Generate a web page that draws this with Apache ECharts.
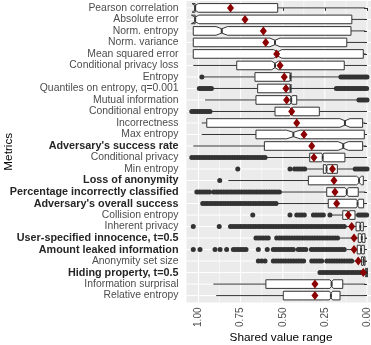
<!DOCTYPE html>
<html>
<head>
<meta charset="utf-8">
<script src="https://cdn.jsdelivr.net/npm/echarts@6/dist/echarts.min.js"></script>
<style>
  html, body { margin: 0; padding: 0; background: #fff; }
  #chart { width: 371px; height: 345px; }
</style>
</head>
<body>
<div id="chart"></div>
<script>
// metric names, top to bottom
const metrics = [
  "Pearson correlation", "Absolute error", "Norm. entropy", "Norm. variance",
  "Mean squared error", "Conditional privacy loss", "Entropy",
  "Quantiles on entropy, q=0.001", "Mutual information", "Conditional entropy",
  "Incorrectness", "Max entropy", "Adversary's success rate", "Conditional privacy",
  "Min entropy", "Loss of anonymity", "Percentage incorrectly classified",
  "Adversary's overall success", "Collision entropy", "Inherent privacy",
  "User-specified innocence, t=0.5", "Amount leaked information", "Anonymity set size",
  "Hiding property, t=0.5", "Information surprisal", "Relative entropy"
];
const boldRows = [12, 15, 16, 17, 20, 21, 23];

// box statistics per metric (same order as metrics)
const whiskerHigh = [1.02, 1.02, 1.031, 1.031, 1.031, 1.031, 0.97, 0.912, 0.961, 0.925, 0.981, 0.981, 1.031, 0.6, 0.36, 0.823, 0.51, 0.53, 0.215, 0.125, 0.165, 0.12, 0.08, 0.03, 0.912, 0.895];
const upperHinge  = [1.02, 1.02, 1.031, 1.031, 1.031, 0.773, 0.665, 0.649, 0.659, 0.546, 0.951, 0.659, 0.609, 0.34, 0.259, 0.348, 0.239, 0.23, 0.144, 0.065, 0.052, 0.058, 0.032, 0.008, 0.6, 0.497];
const medians     = [1.02, 1.02, 0.862, 0.546, 0.53, 0.546, 0.455, 0.455, 0.45, 0.45, 0.131, 0.437, 0.141, 0.263, 0.24, 0.047, 0.12, 0.056, 0.11, 0.04, 0.031, 0.035, 0.02, 0.0, 0.21, 0.214];
const notchHalf   = [0.018, 0.022, 0.034, 0.03, 0.025, 0.02, 0.004, 0.004, 0.006, 0.01, 0.03, 0.04, 0.03, 0.006, 0.004, 0.015, 0.01, 0.008, 0.006, 0.004, 0.004, 0.004, 0.003, 0.003, 0.01, 0.01];
const lowerHinge  = [0.53, 0.09, 0.095, 0.12, 0.022, 0.135, 0.451, 0.451, 0.417, 0.283, 0.026, 0.016, 0.026, 0.131, 0.176, 0.022, 0.052, 0.02, 0.071, 0.022, 0.012, 0.016, 0.012, 0.0, 0.144, 0.16];
const whiskerLow  = [0.01, 0.01, 0.01, 0.01, 0.008, 0.01, 0.165, 0.19, 0.055, 0.01, 0.01, 0.008, 0.005, 0.01, 0.078, 0.01, 0.01, 0.005, 0.06, 0.005, 0.0, 0.0, 0.0, 0.0, 0.01, 0.01];
const means       = [0.81, 0.724, 0.615, 0.601, 0.536, 0.516, 0.491, 0.481, 0.477, 0.447, 0.417, 0.374, 0.328, 0.315, 0.205, 0.196, 0.19, 0.18, 0.111, 0.091, 0.077, 0.077, 0.052, 0.022, 0.309, 0.309];

// outliers per metric
const outliers = [
  [], [], [], [], [], [],
  [0.98, 0.155, 0.143, 0.131, 0.119, 0.107, 0.095, 0.083, 0.071, 0.059, 0.047, 0.035, 0.023, 0.011, 0.0],
  [0.995, 0.983, 0.971, 0.959, 0.947, 0.935, 0.923, 0.182, 0.17, 0.158, 0.146, 0.134, 0.122, 0.11, 0.098, 0.086, 0.074, 0.062, 0.05, 0.038, 0.026, 0.014, 0.002],
  [0.048, 0.036, 0.024, 0.012, 0.0],
  [1.04, 1.028, 1.016, 1.004, 0.992, 0.98, 0.968, 0.956, 0.944, 0.932],
  [], [], [],
  [1.04, 1.025, 1.01, 0.995, 0.98, 0.965, 0.95, 0.935, 0.92, 0.905, 0.89, 0.875, 0.86, 0.845, 0.83, 0.815, 0.8, 0.785, 0.77, 0.755, 0.74, 0.725, 0.71, 0.695, 0.68, 0.665, 0.65, 0.635, 0.62, 0.605],
  [0.767, 0.457, 0.43, 0.415, 0.4, 0.385, 0.37, 0.07, 0.056, 0.042, 0.028, 0.014, 0.0],
  [0.874],
  [1.01, 0.995, 0.98, 0.965, 0.95, 0.935, 0.91, 0.895, 0.88, 0.865, 0.85, 0.835, 0.82, 0.805, 0.79, 0.775, 0.76, 0.745, 0.73, 0.715, 0.7, 0.685, 0.67, 0.655, 0.64, 0.625, 0.61, 0.595, 0.58, 0.565, 0.55, 0.535, 0.52],
  [0.975, 0.96, 0.945, 0.93, 0.915, 0.9, 0.885, 0.87, 0.855, 0.84, 0.825, 0.81, 0.795, 0.78, 0.765, 0.75, 0.735, 0.72, 0.705, 0.69, 0.675, 0.66, 0.645, 0.63, 0.615, 0.6, 0.585, 0.57, 0.555, 0.54],
  [0.678, 0.457, 0.417, 0.402, 0.387, 0.372, 0.318, 0.303, 0.288, 0.273, 0.259, 0.22, 0.05, 0.038, 0.026, 0.014, 0.002],
  [1.031, 0.877, 0.81, 0.795, 0.78, 0.765, 0.75, 0.735, 0.72, 0.705, 0.69, 0.675, 0.66, 0.645, 0.63, 0.615, 0.6, 0.585, 0.57, 0.555, 0.54, 0.525, 0.51, 0.495, 0.48, 0.465, 0.45, 0.435, 0.42, 0.405, 0.39, 0.375, 0.36, 0.345, 0.33, 0.315, 0.3, 0.285, 0.27, 0.255, 0.24, 0.225, 0.21, 0.195, 0.18, 0.165, 0.15, 0.135],
  [0.659, 0.645, 0.63, 0.615, 0.6, 0.586, 0.536, 0.52, 0.505, 0.49, 0.475, 0.46, 0.445, 0.43, 0.415, 0.4, 0.385, 0.37, 0.355, 0.34, 0.325, 0.31, 0.295, 0.28, 0.265, 0.25, 0.235, 0.22, 0.205, 0.19, 0.175],
  [1.031, 0.991, 0.902, 0.872, 0.833, 0.793, 0.778, 0.763, 0.748, 0.733, 0.718, 0.645, 0.592, 0.556, 0.541, 0.526, 0.511, 0.496, 0.481, 0.466, 0.451, 0.437, 0.408, 0.393, 0.378, 0.363, 0.33, 0.315, 0.3, 0.285, 0.27, 0.255, 0.24, 0.225, 0.21, 0.195, 0.18, 0.165, 0.15, 0.135],
  [0.645, 0.625, 0.605, 0.556, 0.541, 0.526, 0.511, 0.496, 0.481, 0.466, 0.451, 0.436, 0.421, 0.406, 0.391, 0.376, 0.328, 0.313, 0.298, 0.283, 0.269, 0.239, 0.224, 0.209, 0.194, 0.179, 0.164, 0.149, 0.134, 0.119, 0.104, 0.091],
  [0.279, 0.264, 0.249, 0.234, 0.219, 0.204, 0.189, 0.174, 0.159, 0.144, 0.129, 0.114, 0.099, 0.084, 0.069, 0.054, 0.039],
  [], []
];

// axis breaks
const majorBreaks = [0, 0.25, 0.5, 0.75, 1];
const minorBreaks = [0.125, 0.375, 0.625, 0.875];
const rowIndex = metrics.map((m, i) => i);

const boxData = metrics.map((m, i) => [i, whiskerLow[i], lowerHinge[i], medians[i], upperHinge[i], whiskerHigh[i], notchHalf[i]]);
const outlierData = [];
outliers.forEach((list, i) => list.forEach(v => outlierData.push([v, i])));
const meanData = means.map((v, i) => [v, i]);

const chart = echarts.init(document.getElementById('chart'));

// white panel grid lines drawn behind the boxes
function renderGrid(params, api) {
  const cs = params.coordSys;
  const children = [];
  minorBreaks.forEach(v => {
    const x = api.coord([v, 0])[0];
    children.push({ type: 'line', shape: { x1: x, y1: cs.y, x2: x, y2: cs.y + cs.height }, style: { stroke: '#ffffff', lineWidth: 0.5 } });
  });
  majorBreaks.forEach(v => {
    const x = api.coord([v, 0])[0];
    children.push({ type: 'line', shape: { x1: x, y1: cs.y, x2: x, y2: cs.y + cs.height }, style: { stroke: '#ffffff', lineWidth: 1 } });
  });
  rowIndex.forEach(r => {
    const y = api.coord([0, r])[1];
    children.push({ type: 'line', shape: { x1: cs.x, y1: y, x2: cs.x + cs.width, y2: y }, style: { stroke: '#ffffff', lineWidth: 1 } });
  });
  return { type: 'group', children: children };
}

// notched box, ggplot style
function renderBox(params, api) {
  const row = api.value(0);
  const wl = api.value(1), q1 = api.value(2), med = api.value(3);
  const q3 = api.value(4), wh = api.value(5), nh = api.value(6);
  const px = v => api.coord([v, row])[0];
  const yc = api.coord([0, row])[1];
  const half = api.size([0, 1])[1] * 0.375;
  const top = yc - half, bot = yc + half, ind = half / 2;
  const line = { stroke: '#333333', lineWidth: 1 };
  return {
    type: 'group',
    children: [
      { type: 'line', shape: { x1: px(wh), y1: yc, x2: px(q3), y2: yc }, style: line },
      { type: 'line', shape: { x1: px(q1), y1: yc, x2: px(wl), y2: yc }, style: line },
      {
        type: 'polygon',
        shape: {
          points: [
            [px(q1), top], [px(med - nh), top], [px(med), top + ind], [px(med + nh), top], [px(q3), top],
            [px(q3), bot], [px(med + nh), bot], [px(med), bot - ind], [px(med - nh), bot], [px(q1), bot]
          ]
        },
        style: { fill: '#ffffff', stroke: '#333333', lineWidth: 1 }
      },
      { type: 'line', shape: { x1: px(med), y1: top + ind, x2: px(med), y2: bot - ind }, style: { stroke: '#333333', lineWidth: 2 } }
    ]
  };
}

const option = {
  animation: false,
  grid: {
    left: 186.5,
    top: 1,
    width: 189,
    height: 301.5,
    show: true,
    backgroundColor: '#EBEBEB',
    borderWidth: 0,
    containLabel: false,
    outerBoundsMode: 'none'
  },
  xAxis: {
    type: 'value',
    inverse: true,
    min: -0.0504,
    max: 1.0712,
    name: 'Shared value range',
    nameLocation: 'middle',
    nameMoveOverlap: false,
    nameGap: 29,
    nameTextStyle: { fontFamily: 'Liberation Sans', fontSize: 11.8, color: '#000000' },
    axisLine: { show: false },
    axisTick: { show: true, customValues: majorBreaks, length: 3, lineStyle: { color: '#333333', width: 1 } },
    axisLabel: {
      customValues: majorBreaks,
      formatter: v => v.toFixed(2),
      rotate: 90,
      margin: 5,
      fontFamily: 'Liberation Sans',
      fontSize: 10,
      color: '#4D4D4D'
    },
    splitLine: { show: false }
  },
  yAxis: {
    type: 'value',
    inverse: true,
    min: -0.6,
    max: 25.6,
    name: 'Metrics',
    nameLocation: 'middle',
    nameMoveOverlap: false,
    nameRotate: 90,
    nameGap: 172,
    nameTextStyle: { fontFamily: 'Liberation Sans', fontSize: 11.8, color: '#000000' },
    axisLine: { show: false },
    axisTick: { show: true, customValues: rowIndex, length: 3, lineStyle: { color: '#333333', width: 1 } },
    axisLabel: {
      customValues: rowIndex,
      margin: 8,
      formatter: v => (boldRows.indexOf(v) >= 0 ? '{b|' : '{r|') + metrics[v] + '}',
      rich: {
        r: { fontFamily: 'Liberation Sans', fontSize: 10.4, color: '#4D4D4D' },
        b: { fontFamily: 'Liberation Sans', fontSize: 10.8, fontWeight: 'bold', color: '#262626' }
      }
    },
    splitLine: { show: false }
  },
  series: [
    {
      type: 'custom',
      silent: true,
      z: 0,
      renderItem: renderGrid,
      data: [[0, 0]],
      encode: { x: 0, y: 1 }
    },
    {
      type: 'custom',
      z: 2,
      clip: true,
      renderItem: renderBox,
      data: boxData,
      encode: { x: [1, 2, 3, 4, 5], y: 0 }
    },
    {
      type: 'scatter',
      z: 3,
      symbol: 'circle',
      symbolSize: 5,
      itemStyle: { color: '#333333', opacity: 1 },
      data: outlierData
    },
    {
      type: 'scatter',
      z: 4,
      symbol: 'diamond',
      symbolSize: [7, 9],
      itemStyle: { color: '#8B0000', opacity: 1 },
      data: meanData
    }
  ]
};

chart.setOption(option);

window.addEventListener('resize', () => {
  chart.resize();
});
</script>
</body>
</html>
